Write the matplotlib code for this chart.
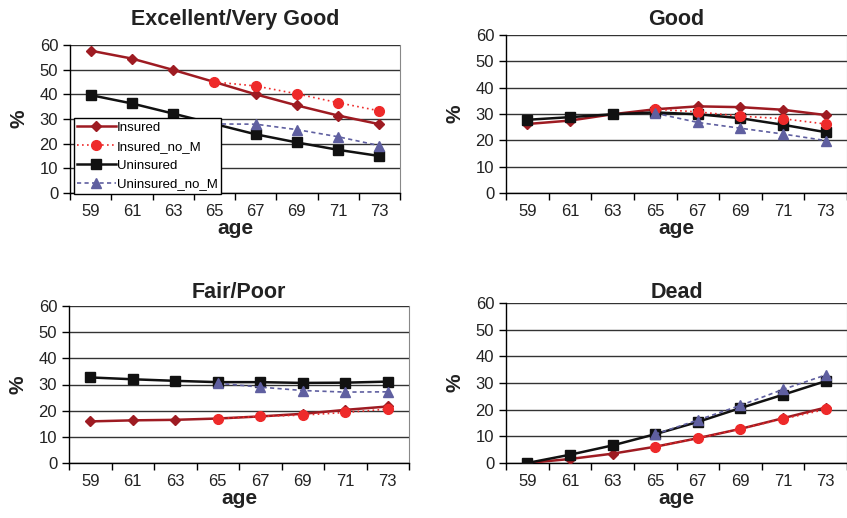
import numpy as np
import matplotlib
matplotlib.use("Agg")
import matplotlib.pyplot as plt

plt.rcParams['font.family'] = ['Liberation Sans', 'DejaVu Sans']

ages = [59, 61, 63, 65, 67, 69, 71, 73]
nan = np.nan

# Excellent/Very Good
ex_ins = [57.7, 54.5, 49.9, 45.0, 40.0, 35.5, 31.4, 27.9]
ex_ins_nom = [nan, nan, nan, 45.0, 43.4, 40.2, 36.6, 33.3]
ex_unins = [39.7, 36.3, 32.2, 28.0, 23.8, 20.5, 17.5, 15.0]
ex_unins_nom = [nan, nan, nan, 28.0, 27.9, 25.7, 22.8, 19.2]

# Good
gd_ins = [26.2, 27.5, 29.9, 31.8, 32.9, 32.6, 31.6, 29.6]
gd_ins_nom = [nan, nan, nan, 31.8, 30.8, 29.2, 28.2, 26.2]
gd_unins = [27.8, 28.8, 29.9, 30.6, 29.9, 28.4, 25.9, 23.1]
gd_unins_nom = [nan, nan, nan, 30.3, 26.8, 24.6, 22.4, 19.9]

# Fair/Poor
fp_ins = [15.9, 16.3, 16.5, 17.0, 17.8, 18.8, 20.3, 21.6]
fp_ins_nom = [nan, nan, nan, 17.0, 17.8, 18.3, 19.3, 20.6]
fp_unins = [32.7, 32.0, 31.4, 30.9, 30.9, 30.6, 30.7, 31.1]
fp_unins_nom = [nan, nan, nan, 30.5, 29.0, 27.7, 27.1, 27.2]

# Dead
dd_ins = [0.0, 1.5, 3.5, 6.1, 9.3, 12.8, 16.8, 20.8]
dd_ins_nom = [nan, nan, nan, 6.1, 9.3, 12.8, 16.5, 20.1]
dd_unins = [0.0, 3.1, 6.6, 10.8, 15.4, 20.6, 25.6, 30.7]
dd_unins_nom = [nan, nan, nan, 10.8, 16.1, 21.6, 27.6, 33.0]

panels = [
    ("Excellent/Very Good", ex_ins, ex_ins_nom, ex_unins, ex_unins_nom),
    ("Good", gd_ins, gd_ins_nom, gd_unins, gd_unins_nom),
    ("Fair/Poor", fp_ins, fp_ins_nom, fp_unins, fp_unins_nom),
    ("Dead", dd_ins, dd_ins_nom, dd_unins, dd_unins_nom),
]

W, H = 847, 518
# left, right, top, bottom in pixels; title baseline y
boxes = [(70, 400, 45, 193, 25), (506, 847, 35, 193, 25),
         (69, 409, 306, 463, 298), (506, 847, 303, 463, 298)]

fig = plt.figure(figsize=(W / 100, H / 100), dpi=100)
x = np.arange(len(ages))

for (title, ins, ins_nom, unins, unins_nom), (l, r, t, b, ty) in zip(panels, boxes):
    ax = fig.add_axes([l / W, 1 - b / H, (r - l) / W, (b - t) / H])
    ax.plot(x, ins, color='#9e1b22', lw=1.8, marker='D', ms=5,
            label='Insured', zorder=3)
    ax.plot(x, ins_nom, color='#ee2a2a', lw=1.2, ls=(0, (1, 2)), marker='o',
            ms=7, label='Insured_no_M', zorder=4)
    ax.plot(x, unins, color='#111111', lw=1.8, marker='s', ms=6.5,
            label='Uninsured', zorder=3)
    ax.plot(x, unins_nom, color='#5f5fa0', lw=1.2, ls=(0, (2.5, 2)), marker='^',
            ms=7, label='Uninsured_no_M', zorder=4)

    ax.set_xlim(-0.5, 7.5)
    ax.set_ylim(0, 60)
    ax.set_yticks(range(0, 61, 10))
    ax.yaxis.grid(True, color='#333333', lw=1)
    ax.set_axisbelow(True)
    ax.set_xticks(np.arange(-0.5, 8, 1))
    ax.set_xticklabels([])
    ax.set_xticks(x, minor=True)
    ax.set_xticklabels([str(a) for a in ages], minor=True)
    ax.tick_params(axis='x', which='major', length=5, color='black', width=1)
    ax.tick_params(axis='x', which='minor', length=0, pad=8, labelsize=12,
                   labelcolor='#222222')
    ax.tick_params(axis='y', length=5, width=1, labelsize=12,
                   labelcolor='#222222')
    for s in ['left', 'bottom']:
        ax.spines[s].set_color('black')
        ax.spines[s].set_linewidth(1)
    ax.spines['top'].set_visible(False)
    ax.spines['right'].set_color('#888888')
    fig.text((l + r) / 2 / W, 1 - ty / H, title, ha='center', va='baseline',
             fontsize=15.5, fontweight='bold', color='#222222')
    ax.set_xlabel('age', fontsize=15, fontweight='bold', color='#222222',
                  labelpad=0)
    ax.set_ylabel('%', fontsize=15, fontweight='bold', color='#222222',
                  labelpad=8)

    if title == "Excellent/Very Good":
        leg = ax.legend(loc='lower left', bbox_to_anchor=(0.012, -0.005),
                        fontsize=9.5, frameon=True, fancybox=False,
                        framealpha=1, borderpad=0.25, labelspacing=0.5,
                        handlelength=2.9, handletextpad=0.1, borderaxespad=0)
        leg.get_frame().set_edgecolor('black')
        leg.get_frame().set_linewidth(1)
        leg.set_zorder(10)

fig.savefig('out.png', dpi=100)
